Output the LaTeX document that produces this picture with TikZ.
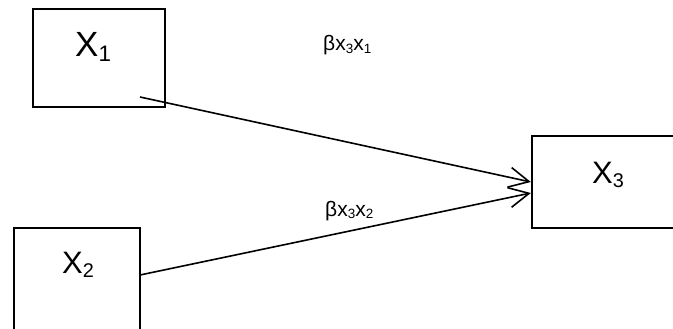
\documentclass[tikz,border=0pt]{standalone}
\usepackage{graphicx}
\usepackage{fontspec}
\setmainfont{Liberation Sans}
\usetikzlibrary{arrows.meta}

\newcommand{\lowidx}[1]{\raisebox{-0.13em}{\scalebox{0.64}{#1}}}

\begin{document}
\begin{tikzpicture}[x=1pt, y=-1pt,
    varbox/.style={draw, line width=2.3pt, inner sep=0pt},
    varname/.style={anchor=base west, inner sep=0pt, font=\fontsize{33}{33}\selectfont},
    coef/.style={anchor=base west, inner sep=0pt, font=\fontsize{21}{21}\selectfont},
    link/.style={line width=1.6pt, -{Straight Barb[length=20pt, width=20pt, line width=1.6pt]}}]
    \useasboundingbox (0,0) rectangle (673,329);
    \clip (0,0) rectangle (673,329);

    % Variables
    \node[varbox, minimum width=132pt, minimum height=98pt] (x1box) at (99,58) {};
    \node[varbox, minimum width=126pt, minimum height=110pt] (x2box) at (77,283) {};
    \node[varbox, minimum width=158pt, minimum height=92pt] (x3box) at (611,182) {};

    \node[varname, font=\fontsize{35}{35}\selectfont] (x1) at (75,57) {X\lowidx{1}};
    \node[varname, font=\fontsize{31}{31}\selectfont] (x2) at (62,273) {X\lowidx{2}};
    \node[varname, font=\fontsize{31}{31}\selectfont] (x3) at (592,183) {X\lowidx{3}};

    % Paths
    \coordinate (a1) at (140,97);
    \coordinate (a2) at (140,275);
    \draw[link] (a1) -- (x3box.west);
    \draw[link] (a2) -- ([yshift=-11pt]x3box.west);

    \node[coef] (b31) at (323,51) {βx\lowidx{3}x\lowidx{1}};
    \node[coef] (b32) at (325,216) {βx\lowidx{3}x\lowidx{2}};
\end{tikzpicture}
\end{document}
